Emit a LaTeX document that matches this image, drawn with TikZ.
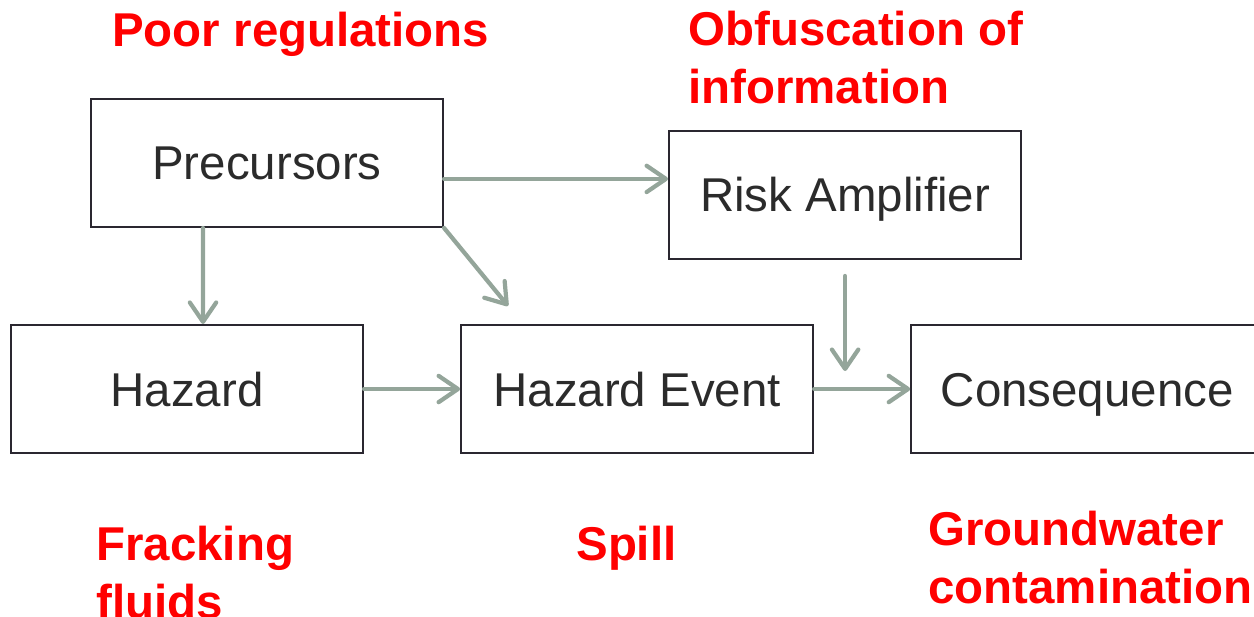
\documentclass[tikz,border=0pt]{standalone}
\usepackage{fontspec}
\setmainfont{Liberation Sans}
\usetikzlibrary{arrows.meta, positioning, calc}
\definecolor{edge}{HTML}{2A2730}
\definecolor{flowgray}{HTML}{94A59A}
\definecolor{boxtext}{HTML}{2B2B2B}
\definecolor{alert}{HTML}{FF0000}

\begin{document}
\begin{tikzpicture}[
  node distance=1.92cm,
  box/.style={draw=edge, line width=1.2pt, minimum width=7.04cm, minimum height=2.56cm,
              font=\fontsize{27}{33}\selectfont, text=boxtext, align=center,
              text height=19.4pt, text depth=0pt},
  flow/.style={draw=flowgray, line width=2.4pt, line cap=round,
               -{Straight Barb[length=11pt, width=15pt, round, line width=2.4pt]}},
  note/.style={font=\fontsize{27}{33}\selectfont\bfseries, text=alert,
               anchor=base west, align=left, inner sep=0pt},
]
  \clip (0,0) rectangle (25.08,-12.32);

  % Main chain
  \node[box] (hazard) at (3.74,-7.78) {Hazard};
  \node[box, right=of hazard] (event) {Hazard Event};
  \node[box, right=of event] (conseq) {Consequence};

  % Upper row
  \node[box, above=1.92cm of hazard, xshift=1.6cm] (prec) {Precursors};
  \node[box, above=1.28cm of event, xshift=4.16cm] (risk) {Risk Amplifier};

  % Connectors
  \draw[flow] ([yshift=-0.32cm]prec.east) -- ([yshift=-0.32cm]prec.east -| risk.west);
  \draw[flow] ([xshift=-1.28cm]prec.south) -- ([xshift=0.32cm]hazard.north);
  \draw[flow] (prec.south east) -- ([shift={(0.96,0.36)}]event.north west);
  \draw[flow] (hazard) -- (event);
  \draw[flow] (event) -- (conseq);
  \draw[flow] ([yshift=-0.32cm]risk.south) -- ($(risk.south |- event.east)+(0,0.36)$);

  % Examples in red (anchored at the last line)
  \node[note] (poor) at (2.24,-0.92) {Poor regulations};
  \node[note] (obf) at (13.76,-2.06) {Obfuscation of\\information};
  \node[note] (fluids) at (1.92,-12.36) {Fracking\\fluids};
  \node[note] (spill) at (11.52,-11.2) {Spill};
  \node[note] (ground) at (18.56,-12.06) {Groundwater\\contamination};
\end{tikzpicture}
\end{document}
